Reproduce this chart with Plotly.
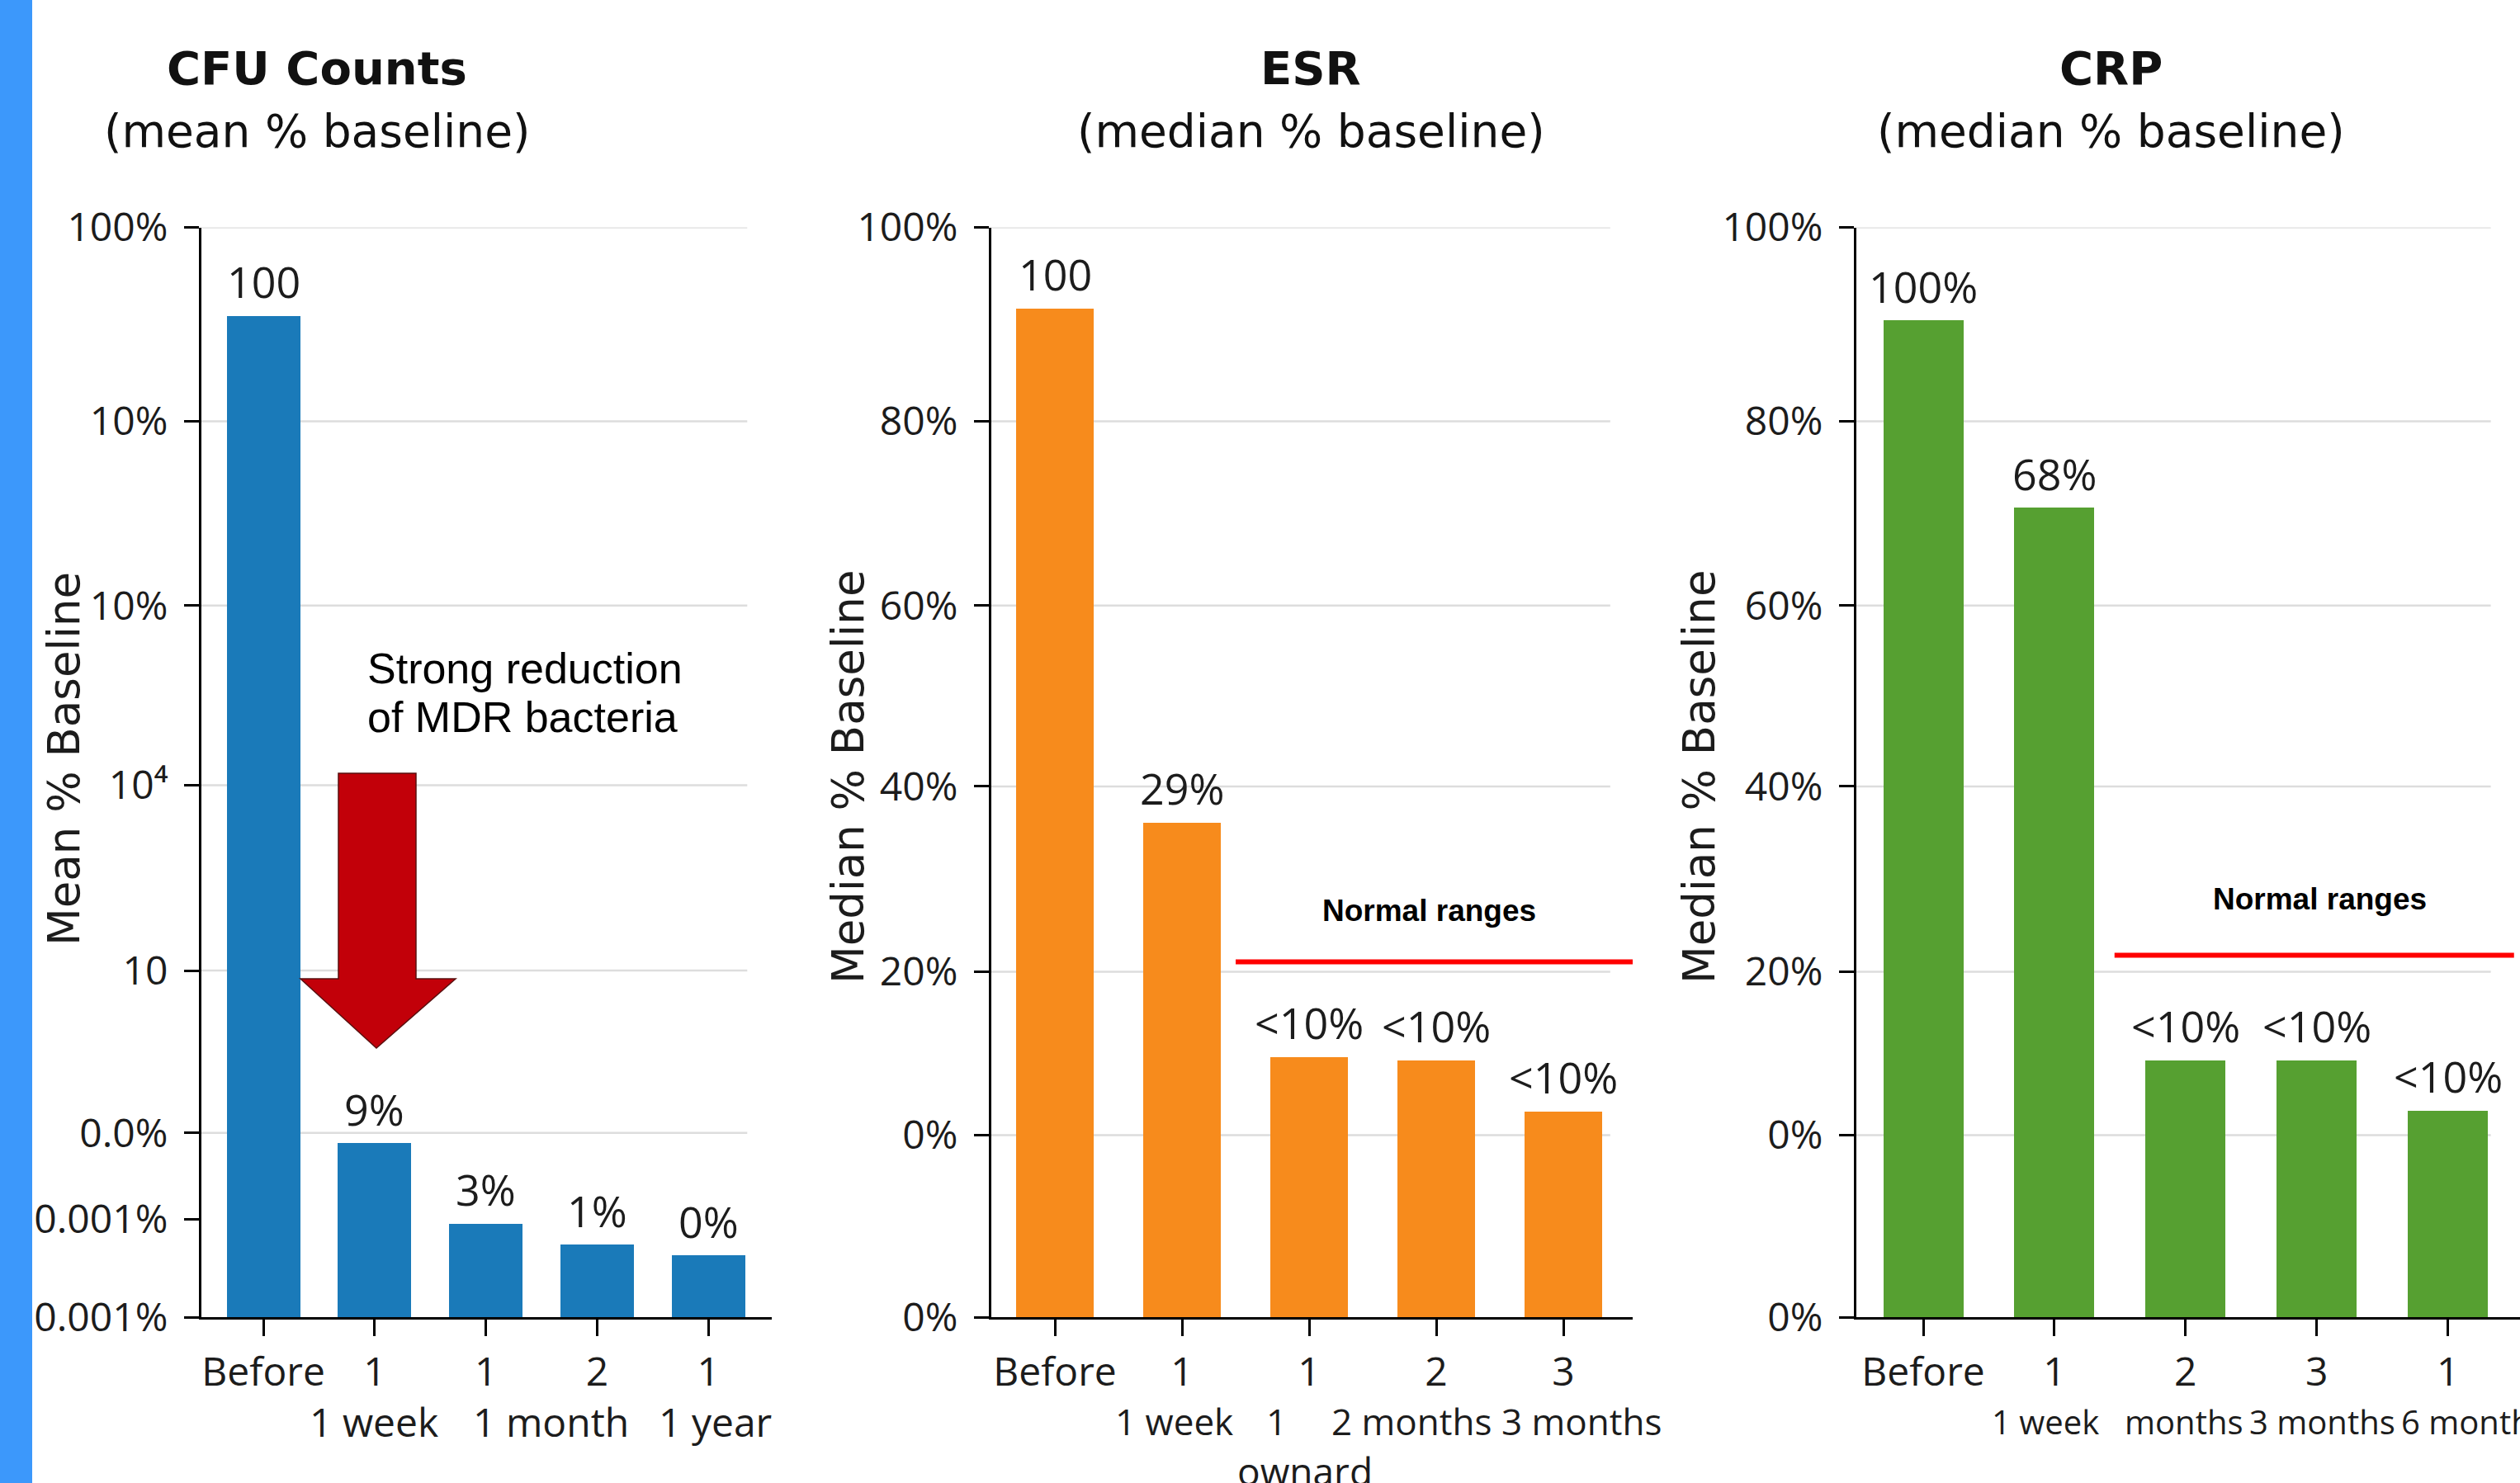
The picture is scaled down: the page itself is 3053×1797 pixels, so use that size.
import plotly.graph_objects as go

W, H = 3053, 1797

# ---------------- data ----------------
time_keys = ["Before", "1 week", "1 month", "2 months", "later"]

cfu_row1 = ["Before", "1", "1", "2", "1"]
cfu_heights = [91.9, 16.0, 8.6, 6.7, 5.7]
cfu_labels = ["100", "9%", "3%", "1%", "0%"]
cfu_tickvals = [0, 9.0, 16.9, 31.8, 48.8, 65.3, 82.2, 100]
cfu_ticktext = ["0.001%", "0.001%", "0.0%", "10", "10⁴", "10%", "10%", "100%"]
cfu_row2 = ["1 week", "1 month", "1 year"]

esr_row1 = ["Before", "1", "1", "2", "3"]
esr_heights = [92.6, 45.4, 23.9, 23.6, 18.9]
esr_labels = ["100", "29%", "<10%", "<10%", "<10%"]
esr_row2 = ["1 week", "1", "2 months", "3 months", "ownard"]
esr_normal = 32.6

crp_row1 = ["Before", "1", "2", "3", "1"]
crp_heights = [91.5, 74.3, 23.6, 23.6, 19.0]
crp_labels = ["100%", "68%", "<10%", "<10%", "<10%"]
crp_row2 = ["1 week", "months", "3 months", "6 months"]
crp_normal = 33.2

med_tickvals = [0, 16.7, 31.7, 48.7, 65.3, 82.2, 100]
med_ticktext = ["0%", "0%", "20%", "40%", "60%", "80%", "100%"]

# ---------------- styling ----------------
BLUE, ORANGE, GREEN = "#1a7ab9", "#f78b1c", "#56a031"
TXT = "#1c1c1c"
SANS = "Open Sans, Noto Sans, sans-serif"
ARIAL = "Liberation Sans, Arial, sans-serif"
DEJAVU = "DejaVu Sans, sans-serif"

def px(x):
    return x / W

def py(y):
    return 1 - y / H

ydom = [py(1596), py(275.5)]

fig = go.Figure()
fig.add_trace(go.Bar(x=time_keys, y=cfu_heights, marker=dict(color=BLUE, line_width=0),
                     width=0.66, xaxis="x", yaxis="y", hoverinfo="skip"))
fig.add_trace(go.Bar(x=time_keys, y=esr_heights, marker=dict(color=ORANGE, line_width=0),
                     width=0.61, xaxis="x2", yaxis="y2", hoverinfo="skip"))
fig.add_trace(go.Bar(x=time_keys, y=crp_heights, marker=dict(color=GREEN, line_width=0),
                     width=0.61, xaxis="x3", yaxis="y3", hoverinfo="skip"))

axis_common = dict(showline=True, linecolor="black", linewidth=3, ticks="outside",
                   tickcolor="black", tickwidth=3, showgrid=False, zeroline=False,
                   automargin=False)

def xax(domain, rng, ticktext, anchor):
    return dict(axis_common, domain=domain, range=rng, type="category",
                categoryorder="array", categoryarray=time_keys,
                tickvals=time_keys, ticktext=ticktext, ticklen=20,
                anchor=anchor, ticklabelstandoff=2,
                tickfont=dict(family=SANS, size=48, color=TXT))

def yax(tv, tt, anchor):
    return dict(axis_common, domain=ydom, range=[0, 100], tickvals=tv, ticktext=tt,
                ticklen=18, anchor=anchor, ticklabelstandoff=10,
                tickfont=dict(family=SANS, size=48, color=TXT))

fig.update_layout(
    width=W, height=H, margin=dict(l=0, r=0, t=0, b=0, pad=0, autoexpand=False),
    paper_bgcolor="white", plot_bgcolor="white", showlegend=False, bargap=0,
    xaxis=xax([px(244), px(935)], [-0.557, 4.57], cfu_row1, "y"),
    yaxis=yax(cfu_tickvals, cfu_ticktext, "x"),
    xaxis2=xax([px(1201), px(1978)], [-0.5, 4.545], esr_row1, "y2"),
    yaxis2=yax(med_tickvals, med_ticktext, "x2"),
    xaxis3=xax([px(2249), 1.0], [-0.51, 4.55], crp_row1, "y3"),
    yaxis3=yax(med_tickvals, med_ticktext, "x3"),
)

shapes = []
# left blue strip
shapes.append(dict(type="rect", xref="paper", yref="paper", x0=0, x1=px(39), y0=0, y1=1,
                   fillcolor="#3c98fb", line_width=0, layer="above"))
# gridlines
for yref, xref, vals, end in [("y", "x domain", cfu_tickvals[2:], 0.957),
                              ("y2", "x2 domain", med_tickvals[1:], 0.965),
                              ("y3", "x3 domain", med_tickvals[1:], 0.956)]:
    for v in vals:
        shapes.append(dict(type="line", xref=xref, yref=yref, x0=0, x1=end, y0=v, y1=v,
                           line=dict(color="#dddddd", width=2.5), layer="below"))
# normal range lines
shapes.append(dict(type="line", xref="x2 domain", yref="y2", x0=0.381, x1=1.0, y0=esr_normal,
                   y1=esr_normal, line=dict(color="#ff0000", width=6)))
shapes.append(dict(type="line", xref="x3 domain", yref="y3", x0=0.389, x1=0.991, y0=crp_normal,
                   y1=crp_normal, line=dict(color="#ff0000", width=6)))
# red arrow (paper coordinates)
pts = [(410, 937), (504, 937), (504, 1186), (552, 1186), (456, 1270), (364, 1186), (410, 1186)]
path = "M " + " L ".join(f"{px(a):.5f},{py(b):.5f}" for a, b in pts) + " Z"
shapes.append(dict(type="path", xref="paper", yref="paper", path=path,
                   fillcolor="#c20009", line=dict(color="#5a1010", width=1.5)))
fig.update_layout(shapes=shapes)

ann = []
def text(x, y, t, size, family=SANS, bold=False, xanchor="center", angle=0, color=TXT):
    ann.append(dict(xref="paper", yref="paper", x=px(x), y=py(y), text=f"<b>{t}</b>" if bold else t,
                    showarrow=False, xanchor=xanchor, yanchor="middle", textangle=angle,
                    font=dict(family=family, size=size, color=color)))

# titles
for cx, t1, t2 in [(384, "CFU Counts", "(mean % baseline)"),
                   (1588, "ESR", "(median % baseline)"),
                   (2557, "CRP", "(median % baseline)")]:
    text(cx, 82, t1, 56, family=DEJAVU, bold=True, color="#111111")
    text(cx, 159, t2, 55, family=DEJAVU, color="#111111")

# y-axis titles
text(77, 920, "Mean % Baseline", 53, family=DEJAVU, angle=-90)
text(1027, 941, "Median % Baseline", 53, family=DEJAVU, angle=-90)
text(2058, 941, "Median % Baseline", 53, family=DEJAVU, angle=-90)

# second row of x labels
for x, t in zip([453, 667, 866], cfu_row2):
    text(x, 1722, t, 48)
for x, t in zip([1422, 1546, 1710, 1916], esr_row2[:4]):
    text(x, 1722, t, 44)
text(1581, 1782, esr_row2[4], 46)
for x, t in zip([2478, 2645, 2813], crp_row2[:3]):
    text(x, 1722, t, 40)
text(2907, 1722, crp_row2[3], 40, xanchor="left")

# annotation text
text(443, 810, "Strong reduction", 52, family=ARIAL, xanchor="left", color="#000000")
text(443, 869, "of MDR bacteria", 52, family=ARIAL, xanchor="left", color="#000000")
text(1731, 1103, "Normal ranges", 37, family=ARIAL, bold=True, color="#000000")
text(2810, 1089, "Normal ranges", 37, family=ARIAL, bold=True, color="#000000")

# value labels
for xa, ya, hs, ls in [("x", "y", cfu_heights, cfu_labels),
                       ("x2", "y2", esr_heights, esr_labels),
                       ("x3", "y3", crp_heights, crp_labels)]:
    for k, h, l in zip(time_keys, hs, ls):
        ann.append(dict(xref=xa, yref=ya, x=k, y=h, text=l, showarrow=False,
                        xanchor="center", yanchor="bottom", yshift=4,
                        font=dict(family=SANS, size=52, color=TXT)))

fig.update_layout(annotations=ann)
fig.write_html("out.html", config={"displayModeBar": False},
               post_script="document.body.style.margin='0px';")
